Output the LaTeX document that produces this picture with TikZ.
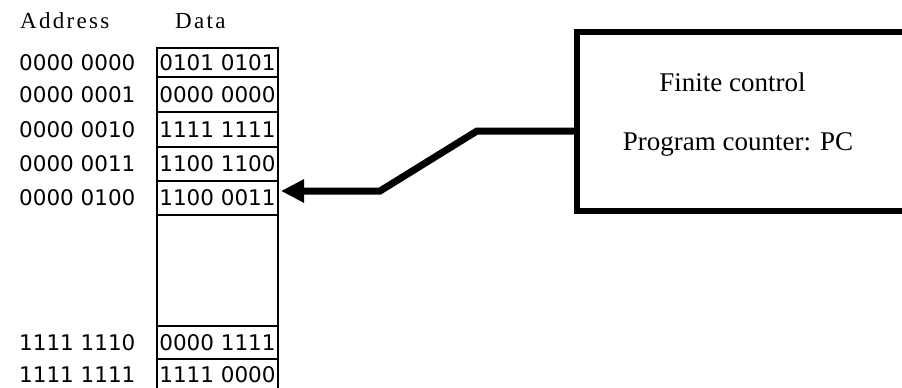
\documentclass[tikz,border=0pt]{standalone}
\usepackage{fontspec}
\setmainfont{Liberation Serif}
\newfontfamily\digitfont{DejaVu Sans}
\newfontfamily\headfont[LetterSpace=10]{Liberation Serif}
\usepackage{tikz}
\usetikzlibrary{arrows.meta}
\usetikzlibrary{positioning}

\tikzset{
	cell/.style = {draw, line width=1.2pt, minimum width=121pt, inner sep=0pt,
		font=\digitfont\fontsize{21.5}{24}\selectfont},
	addr/.style = {anchor=west, inner sep=0pt, font=\digitfont\fontsize{21.5}{24}\selectfont},
	head/.style = {anchor=base west, inner sep=0pt, font=\headfont\fontsize{23}{26}\selectfont},
	conn/.style = {line width=7pt, -{Triangle[length=23pt,width=22pt]}}
}

\begin{document}
\begin{tikzpicture}[x=1pt, y=-1pt]
	\useasboundingbox (0,0) rectangle (902,388);
	% headings
	\node[head] (haddr) at (20,28) {Address};
	\node[head] (hdata) at (175,28) {Data};
	% memory cells
	\node[cell, minimum height=29pt] (d0) at (217.5,62.5) {0101 0101};
	\node[cell, minimum height=35pt] (d1) at (217.5,94.5) {0000 0000};
	\node[cell, minimum height=35pt] (d2) at (217.5,129.5) {1111 1111};
	\node[cell, minimum height=34pt] (d3) at (217.5,164) {1100 1100};
	\node[cell, minimum height=34pt] (d4) at (217.5,198) {1100 0011};
	\node[cell, minimum height=111pt] (dgap) at (217.5,270.5) {};
	\node[cell, minimum height=33pt] (d6) at (217.5,342.5) {0000 1111};
	\node[cell, minimum height=32pt] (d7) at (217.5,375) {1111 0000};
	% addresses
	\node[addr] (a0) at (19,62.5) {0000 0000};
	\node[addr] (a1) at (19,94.5) {0000 0001};
	\node[addr] (a2) at (19,129.5) {0000 0010};
	\node[addr] (a3) at (19,164) {0000 0011};
	\node[addr] (a4) at (19,198) {0000 0100};
	\node[addr] (a6) at (19,342.5) {1111 1110};
	\node[addr] (a7) at (19,375) {1111 1111};
	% finite control
	\node[draw, line width=6pt, minimum width=353pt, minimum height=178.5pt] (ctrl) at (753.5,121.25) {};
	\node[anchor=base, font=\fontsize{27}{30}\selectfont] (fin) at (732.5,91) {Finite control};
	\node[anchor=base, font=\fontsize{27}{30}\selectfont] (pc) at (738,150) {Program counter: PC};
	% pointer to current cell
	\coordinate (bend1) at (477,131);
	\coordinate (bend2) at (380,191);
	\coordinate (tip) at (281,191);
	\draw[conn] (ctrl.west |- bend1) -- (bend1) -- (bend2) -- (tip);
\end{tikzpicture}
\end{document}
